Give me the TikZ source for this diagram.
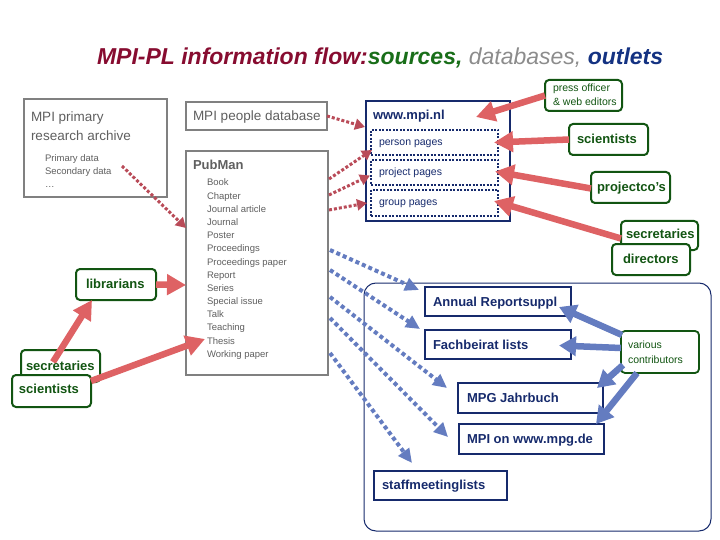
\documentclass[tikz,border=0pt]{standalone}
\usepackage{fontspec}
\setmainfont{Liberation Sans}
\usetikzlibrary{arrows.meta,calc}
\definecolor{tred}{RGB}{135,12,48}
\definecolor{tgreen}{RGB}{25,110,25}
\definecolor{tgray}{RGB}{140,140,140}
\definecolor{tblue}{RGB}{20,50,130}
\definecolor{boxgray}{RGB}{128,128,128}
\definecolor{txgray}{RGB}{95,95,95}
\definecolor{navy}{RGB}{22,42,108}
\definecolor{dgreen}{RGB}{18,85,18}
\definecolor{redarr}{RGB}{222,98,100}
\definecolor{reddot}{RGB}{185,75,88}
\definecolor{bluearr}{RGB}{100,124,192}
\begin{document}
\begin{tikzpicture}[x=1pt,y=-1pt,
  every node/.style={inner sep=0pt,outer sep=0pt},
  graybox/.style={draw=boxgray,line width=2pt,anchor=north west},
  navybox/.style={draw=navy,line width=2pt,anchor=north west},
  dotbox/.style={draw=navy,line width=1.5pt,dash pattern=on 2pt off 1.5pt,anchor=north west},
  greenbox/.style={draw=dgreen,line width=2pt,rounded corners=4pt,fill=white,anchor=north west},
  lbl/.style={anchor=base west},
  graytitle/.style={lbl,text=txgray,font=\fontsize{13.5}{16}\selectfont},
  graysmall/.style={lbl,text=txgray,font=\fontsize{9.5}{12}\selectfont},
  navybold/.style={lbl,text=navy,font=\fontsize{13}{16}\selectfont\bfseries},
  navysmall/.style={lbl,text=navy,font=\fontsize{10.5}{13}\selectfont},
  greenbold/.style={lbl,text=dgreen,font=\fontsize{13}{16}\selectfont\bfseries},
  greensmall/.style={lbl,text=dgreen,font=\fontsize{10.5}{13}\selectfont},
  redarrow/.style={draw=redarr,line width=6.5pt,-{Triangle[length=19pt,width=20pt]}},
  reddotted/.style={draw=reddot,line width=3pt,dash pattern=on 3pt off 2pt,-{Triangle[length=10pt,width=11pt]}},
  bluedotted/.style={draw=bluearr,line width=4pt,dash pattern=on 4pt off 3pt,-{Triangle[length=14pt,width=13pt]}},
  bluearrow/.style={draw=bluearr,line width=6.5pt,-{Triangle[length=17pt,width=19pt]}}]
\useasboundingbox (0,0) rectangle (720,540);

% title
\node[lbl] (title) at (97,65) {\fontsize{23}{27}\selectfont\bfseries\itshape
  \textcolor{tred}{MPI-PL information flow:}\textcolor{tgreen}{sources,} \textcolor{tgray}{\mdseries databases,} \textcolor{tblue}{outlets}};

% container for outlets
\node[draw=navy,line width=1pt,rounded corners=12pt,anchor=north west,minimum width=347pt,minimum height=248pt] (outlets) at (364,283) {};

% gray boxes
\node[graybox,minimum width=143pt,minimum height=98pt] (arch) at (24,99) {};
\node[graybox,minimum width=141pt,minimum height=28pt] (people) at (186,102) {};
\node[graybox,minimum width=142pt,minimum height=224pt] (pubman) at (186,151) {};

% www box
\node[navybox,minimum width=144pt,minimum height=120pt] (www) at (366,101) {};
\node[dotbox,minimum width=127pt,minimum height=25pt] (person) at (371,130) {};
\node[dotbox,minimum width=127pt,minimum height=25pt] (project) at (371,160) {};
\node[dotbox,minimum width=127pt,minimum height=26pt] (group) at (371,190) {};

% outlet boxes
\node[navybox,minimum width=146pt,minimum height=29pt] (annual) at (425,287) {};
\node[navybox,minimum width=146pt,minimum height=29pt] (fach) at (425,330) {};
\node[navybox,minimum width=145pt,minimum height=30pt] (jahr) at (458,383) {};
\node[navybox,minimum width=145pt,minimum height=30pt] (mpgde) at (459,424) {};
\node[navybox,minimum width=133pt,minimum height=29pt] (staff) at (374,471) {};

% green boxes
\node[greenbox,minimum width=77pt,minimum height=31pt] (press) at (545,80) {};
\node[greenbox,minimum width=79pt,minimum height=31pt] (sciR) at (569,124) {};
\node[greenbox,minimum width=79pt,minimum height=31pt] (proj) at (591,172) {};
\node[greenbox,minimum width=77pt,minimum height=29pt] (secR) at (621,221) {};
\node[greenbox,minimum width=78pt,minimum height=31pt] (dirR) at (612,244) {};
\node[greenbox,minimum width=80pt,minimum height=31pt] (lib) at (76,269) {};
\node[greenbox,minimum width=79pt,minimum height=32pt] (secL) at (21,350) {};
\node[greenbox,minimum width=79pt,minimum height=32pt] (sciL) at (12,375) {};
\node[greenbox,line width=1.8pt,minimum width=78pt,minimum height=42pt] (various) at (621,331) {};

% red solid arrows
\draw[redarrow] (press.west) -- ($(www.north west)+(110,16)$);
\draw[redarrow] (sciR.west) -- ([xshift=-4pt]person.east);
\draw[redarrow] ([yshift=-1pt]proj.west) -- ([xshift=-3pt,yshift=1pt]project.east);
\draw[redarrow] ([yshift=-3pt]secR.west) -- ([xshift=-4pt,yshift=2pt]group.east);
\draw[redarrow] (lib.east) -- ($(pubman.north west)+(0,134)$);
\draw[redarrow] ($(secL.north west)+(32,12)$) -- ($(lib.south west)+(16,0)$);
\draw[redarrow] ($(sciL.north east)+(0,6)$) -- ($(pubman.north west)+(19,188)$);

% red dotted arrows
\draw[reddotted] ($(arch.south east)+(-45,-31)$) -- ($(pubman.north west)+(0,77)$);
\draw[reddotted] (people.east) -- ($(www.north west)+(-1,26)$);
\draw[reddotted] ($(pubman.north east)+(1,28)$) -- ($(person.south west)+(1,-5)$);
\draw[reddotted] ($(pubman.north east)+(1,44)$) -- ($(project.west)+(-1,3)$);
\draw[reddotted] ($(pubman.north east)+(1,59)$) -- ($(group.west)+(-4,0)$);

% blue dotted arrows
\draw[bluedotted] ($(pubman.north east)+(2,99)$) -- ($(annual.north west)+(-6,3)$);
\draw[bluedotted] ($(pubman.north east)+(2,119)$) -- ($(fach.north west)+(-5,-1)$);
\draw[bluedotted] ($(pubman.north east)+(2,146)$) -- ($(jahr.north west)+(-11,5)$);
\draw[bluedotted] ($(pubman.north east)+(2,167)$) -- ($(mpgde.north west)+(-11,13)$);
\draw[bluedotted] ($(pubman.north east)+(2,202)$) -- ($(staff.north west)+(38,-8)$);

% blue solid arrows
\draw[bluearrow] ($(various.north west)+(1,4)$) -- ($(annual.south east)+(-12,-9)$);
\draw[bluearrow] ($(various.west)+(0,-4)$) -- ($(fach.east)+(-12,1)$);
\draw[bluearrow] ($(various.south west)+(2,-8)$) -- ($(jahr.north east)+(-6,5)$);
\draw[bluearrow] ($(various.south west)+(16,0)$) -- ($(mpgde.north east)+(-8,0)$);

% texts
\node[graytitle] (t-arch1) at (31,122) {MPI primary};
\node[graytitle] (t-arch2) at (31,141) {research archive};
\foreach \t [count=\i from 0] in {Primary data,Secondary data,\dots}
  \node[graysmall] (t-archi\i) at (45,162+13*\i) {\t};
\node[graytitle] (t-people) at (193,121) {MPI people database};
\node[graytitle,font=\fontsize{13}{16}\selectfont\bfseries] (t-pubman) at (193,170) {PubMan};
\foreach \t [count=\i from 0] in {Book,Chapter,Journal article,Journal,Poster,Proceedings,Proceedings paper,Report,Series,Special issue,Talk,Teaching,Thesis,Working paper}
  \node[graysmall] (t-pm\i) at (207,186+13.18*\i) {\t};

\node[navybold] (t-www) at (373,120) {www.mpi.nl};
\node[navysmall] (t-person) at (379,146) {person pages};
\node[navysmall] (t-project) at (379,176) {project pages};
\node[navysmall] (t-group) at (379,206) {group pages};

\node[greensmall] (t-press1) at (553,92) {press officer};
\node[greensmall] (t-press2) at (553,106) {\& web editors};
\node[greenbold] (t-sciR) at (577,143.5) {scientists};
\node[greenbold] (t-proj) at (597,192) {projectco’s};
\node[greenbold] (t-secR) at (626,238.5) {secretaries};
\node[greenbold] (t-dirR) at (623,263.5) {directors};
\node[greenbold] (t-lib) at (86,288.5) {librarians};
\node[greenbold] (t-secL) at (26,370) {secretaries};
\node[greenbold] (t-sciL) at (19,393.5) {scientists};
\node[greensmall] (t-var1) at (628,348.5) {various};
\node[greensmall] (t-var2) at (628,363) {contributors};

\node[navybold] (t-annual) at (433,306) {Annual Reportsuppl};
\node[navybold] (t-fach) at (433,349) {Fachbeirat lists};
\node[navybold] (t-jahr) at (467,402) {MPG Jahrbuch};
\node[navybold] (t-mpgde) at (467,443.5) {MPI on www.mpg.de};
\node[navybold] (t-staff) at (382,489.5) {staffmeetinglists};
\end{tikzpicture}
\end{document}
